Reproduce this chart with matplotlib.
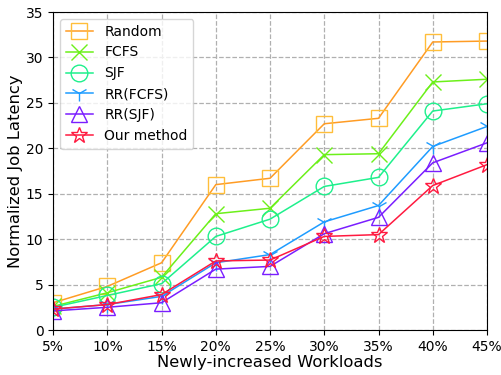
import numpy as np
import matplotlib
matplotlib.use("Agg")
import matplotlib.pyplot as plt

workloads = ["5%", "10%", "15%", "20%", "25%", "30%", "35%", "40%", "45%"]

random_lat = [3.0, 4.8, 7.4, 16.0, 16.7, 22.7, 23.3, 31.7, 31.8]
fcfs_lat = [2.6, 4.1, 5.8, 12.8, 13.4, 19.3, 19.4, 27.3, 27.6]
sjf_lat = [2.5, 3.8, 5.1, 10.3, 12.2, 15.8, 16.8, 24.1, 24.9]
rr_fcfs_lat = [2.3, 2.8, 3.7, 7.4, 8.3, 11.9, 13.7, 20.2, 22.4]
rr_sjf_lat = [2.1, 2.5, 3.0, 6.7, 7.0, 10.6, 12.4, 18.4, 20.6]
our_lat = [2.3, 2.8, 3.9, 7.6, 7.7, 10.3, 10.5, 15.9, 18.2]

series = [
    ("Random", random_lat, "s", "#ff9c24", "#ffbe3a"),
    ("FCFS", fcfs_lat, "x", "#6cf01a", "#6cf01a"),
    ("SJF", sjf_lat, "o", "#1ef08c", "#1ef08c"),
    ("RR(FCFS)", rr_fcfs_lat, "1", "#1e9cff", "#1e9cff"),
    ("RR(SJF)", rr_sjf_lat, "^", "#7a1eff", "#7a1eff"),
    ("Our method", our_lat, "*", "#ff1a40", "#ff1a40"),
]

fig = plt.figure(figsize=(5.01, 3.75), dpi=100)
ax = fig.add_axes([0.106, 0.12, 0.866, 0.848])

x = np.arange(len(workloads))
for name, vals, mk, lc, mc in series:
    ax.plot(x, vals, color=lc, marker=mk, markersize=12, markerfacecolor="none",
            markeredgecolor=mc, markeredgewidth=1.0, linewidth=1.1, label=name)

ax.set_xlim(0, len(workloads) - 1)
ax.set_ylim(0, 35)
ax.set_xticks(x)
ax.set_xticklabels(workloads)
ax.set_yticks(np.arange(0, 36, 5))
ax.tick_params(labelsize=10)
ax.set_xlabel("Newly-increased Workloads", fontsize=11.8, labelpad=1)
ax.set_ylabel("Normalized Job Latency", fontsize=11.8, labelpad=2)
ax.grid(True, linestyle="--", color="#b0b0b0", linewidth=0.9)
ax.set_axisbelow(True)
ax.legend(loc="upper left", fontsize=10, framealpha=0.8)

fig.savefig("out.png", dpi=100)
